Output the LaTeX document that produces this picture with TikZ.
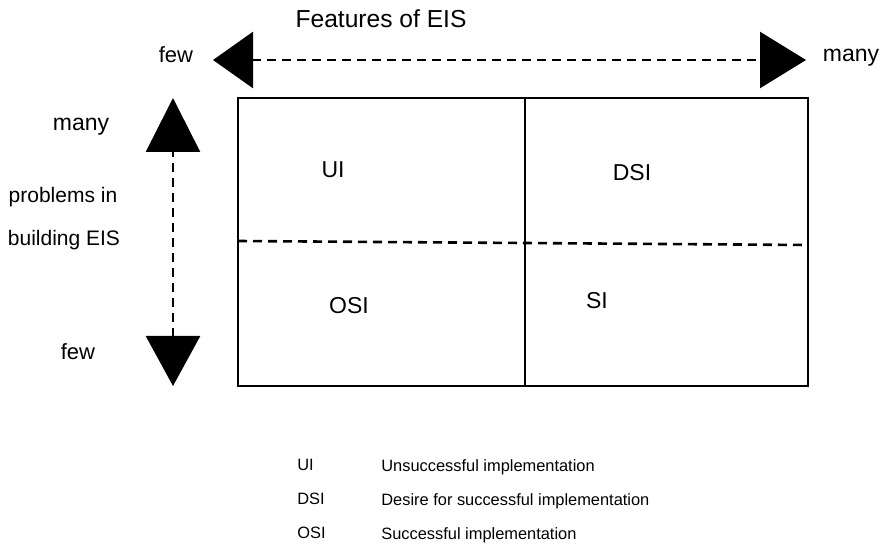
\documentclass[tikz,border=0pt]{standalone}
\usepackage{fontspec}
\setmainfont{Liberation Sans}
\usepackage{tikz}
\usetikzlibrary{arrows.meta, positioning}

\begin{document}
\begin{tikzpicture}[x=0.5pt, y=-0.5pt,
    lbl/.style={inner sep=0pt, font=\fontsize{10.5}{12}\selectfont},
    quad/.style={inner sep=0pt, font=\fontsize{11.5}{13}\selectfont},
    key/.style={inner sep=0pt, anchor=west, font=\fontsize{8.2}{10}\selectfont},
    dashline/.style={line width=1.3pt, dash pattern=on 4.5pt off 3pt},
    bigarrow/.style={dashline,
      {Triangle[length=20pt,width=28pt]}-{Triangle[length=23pt,width=28pt]}},
    frame/.style={line width=1.4pt}]
  \useasboundingbox (0,0) rectangle (889,545);

  % feature axis
  \node[lbl, font=\fontsize{12.3}{14}\selectfont] at (381,19) (feat) {Features of EIS};
  \coordinate (fewx) at (213,60);
  \coordinate (manyx) at (806,60);
  \draw[bigarrow] (fewx) -- (manyx);
  \node[lbl, font=\fontsize{11}{13}\selectfont] at (176,55) (fewxl) {few};
  \node[lbl, font=\fontsize{11.5}{13}\selectfont] at (851,58) (manyxl) {many};

  % problem axis
  \coordinate (manyy) at (173,98);
  \coordinate (fewy) at (173,386);
  \draw[bigarrow, {Triangle[length=25pt,width=27pt]}-{Triangle[length=27pt,width=27pt]}] (fewy) -- (manyy);
  \node[lbl, font=\fontsize{11.5}{13}\selectfont] at (81,127) (manyyl) {many};
  \node[lbl] at (63,197) (prob1) {problems in};
  \node[lbl] at (64,240) (prob2) {building EIS};
  \node[lbl, font=\fontsize{11}{13}\selectfont] at (78,352) (fewyl) {few};

  % quadrants
  \coordinate (tl) at (238,98);
  \coordinate (br) at (808,386);
  \draw[frame] (tl) rectangle (br);
  \draw[frame] (525,98) -- (525,386);
  \draw[dashline] (238,241) -- (808,245);

  \node[quad] at (333,170) (ui) {UI};
  \node[quad] at (632,173) (dsi) {DSI};
  \node[quad] at (349,306) (osi) {OSI};
  \node[quad] at (597,301) (si) {SI};

  % legend
  \node[key] at (297,465) (k1) {UI};
  \node[key] at (381,467) (d1) {Unsuccessful implementation};
  \node[key] at (297,499) (k2) {DSI};
  \node[key] at (381,501) (d2) {Desire for successful implementation};
  \node[key] at (297,533) (k3) {OSI};
  \node[key] at (381,535) (d3) {Successful implementation};

\end{tikzpicture}
\end{document}
